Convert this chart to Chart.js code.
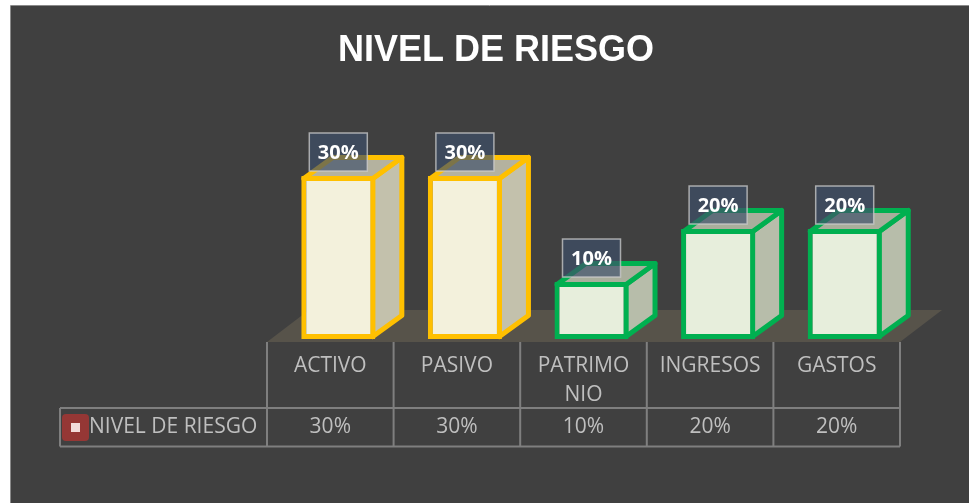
<!DOCTYPE html>
<html>
<head>
<meta charset="utf-8">
<script src="https://cdn.jsdelivr.net/npm/chart.js@4.4.1/dist/chart.umd.min.js"></script>
<style>
  html, body { margin: 0; padding: 0; background: #ffffff; }
  #wrap { position: relative; width: 969px; height: 503px; }
</style>
</head>
<body>
<div id="wrap"><canvas id="chart"></canvas></div>
<script>
// ── Data ──────────────────────────────────────────────
const TITLE       = 'NIVEL DE RIESGO';
const SERIES_NAME = 'NIVEL DE RIESGO';
const CATEGORIES  = ['ACTIVO', 'PASIVO', ['PATRIMO', 'NIO'], 'INGRESOS', 'GASTOS'];
const VALUES      = [30, 30, 10, 20, 20];

// ── Style ─────────────────────────────────────────────
const FRONT_FILL  = ['#f3f1dc', '#f3f1dc', '#e7eedc', '#e7eedc', '#e7eedc'];
const SIDE_FILL   = ['#c3c1ac', '#c3c1ac', '#b7bdaa', '#b7bdaa', '#b7bdaa'];
const TOP_FILL    = ['#b4b29f', '#b4b29f', '#a9ae9c', '#a9ae9c', '#a9ae9c'];
const EDGE        = ['#ffc000', '#ffc000', '#00b050', '#00b050', '#00b050'];
const BAR_DEPTH   = { dx: 29, dy: -21 };
const FLOOR_DEPTH = { dx: 42, dy: -32 };
const SHIFT       = 8;       // bars sit a bit behind the front of the floor
const TEXT_GRAY   = '#bfbfbf';
const GRID_GRAY   = '#7f7f7f';
const TABLE_FONT  = '"Open Sans", "Noto Sans", sans-serif';

// ── Panel, title ─────────────────────────────────────
const panelPlugin = {
  id: 'panel',
  beforeDraw(chart) {
    const ctx = chart.ctx;
    ctx.save();
    ctx.fillStyle = '#ffffff';
    ctx.fillRect(0, 0, chart.width, chart.height);
    ctx.fillStyle = '#404040';
    ctx.fillRect(10, 6, chart.width - 10, chart.height - 6);
    ctx.strokeStyle = '#8a8a8a';
    ctx.lineWidth = 1;
    ctx.beginPath();
    ctx.moveTo(10.5, chart.height);
    ctx.lineTo(10.5, 5.5);
    ctx.lineTo(chart.width, 5.5);
    ctx.stroke();

    // title (centred on the whole panel, not on the plot)
    ctx.fillStyle = '#ffffff';
    ctx.font = 'bold 36px "Liberation Sans", Arial, sans-serif';
    ctx.textAlign = 'center';
    ctx.textBaseline = 'alphabetic';
    ctx.fillText(TITLE, 496, 61);
    ctx.restore();
  },
};

// ── Floor + 3D faces + value boxes ───────────────────
const boxPlugin = {
  id: 'box3d',
  beforeDatasetsDraw(chart) {
    const ctx = chart.ctx;
    const area = chart.chartArea;
    const fl = area.left - SHIFT, fr = area.right - SHIFT, fy = area.bottom + 3;

    ctx.save();
    // floor
    ctx.fillStyle = '#57534a';
    ctx.beginPath();
    ctx.moveTo(fl, fy);
    ctx.lineTo(fr, fy);
    ctx.lineTo(fr + FLOOR_DEPTH.dx, fy + FLOOR_DEPTH.dy);
    ctx.lineTo(fl + FLOOR_DEPTH.dx, fy + FLOOR_DEPTH.dy);
    ctx.closePath();
    ctx.fill();

    // side + top faces of every bar
    const meta = chart.getDatasetMeta(0);
    const { dx, dy } = BAR_DEPTH;
    meta.data.forEach((bar, i) => {
      const p = bar.getProps(['x', 'y', 'base', 'width'], true);
      const l = p.x - p.width / 2 + 2.5, r = p.x + p.width / 2 - 2.5;
      const t = p.y + 2.5, b = p.base - 2.5;
      ctx.lineWidth = 5;
      ctx.lineJoin = 'round';
      ctx.strokeStyle = EDGE[i];

      ctx.fillStyle = SIDE_FILL[i];
      ctx.beginPath();
      ctx.moveTo(r, t);
      ctx.lineTo(r + dx, t + dy);
      ctx.lineTo(r + dx, b + dy);
      ctx.lineTo(r, b);
      ctx.closePath();
      ctx.fill();
      ctx.stroke();

      ctx.fillStyle = TOP_FILL[i];
      ctx.beginPath();
      ctx.moveTo(l, t);
      ctx.lineTo(l + dx, t + dy);
      ctx.lineTo(r + dx, t + dy);
      ctx.lineTo(r, t);
      ctx.closePath();
      ctx.fill();
      ctx.stroke();
    });
    ctx.restore();
  },

  afterDatasetsDraw(chart) {
    const ctx = chart.ctx;
    const meta = chart.getDatasetMeta(0);
    ctx.save();
    meta.data.forEach((bar, i) => {
      const cx = bar.x, cy = bar.y - 24;
      const w = 58, h = 38;
      ctx.fillStyle = 'rgba(62, 80, 106, 0.68)';
      ctx.fillRect(cx - w / 2, cy - h / 2, w, h);
      ctx.strokeStyle = 'rgba(205, 205, 205, 0.75)';
      ctx.lineWidth = 1.5;
      ctx.strokeRect(cx - w / 2, cy - h / 2, w, h);
      ctx.fillStyle = '#ffffff';
      ctx.font = 'bold 20px ' + TABLE_FONT;
      ctx.textAlign = 'center';
      ctx.textBaseline = 'middle';
      ctx.fillText(VALUES[i] + '%', cx, cy + 1);
    });
    ctx.restore();
  },
};

// ── Data table under the plot ────────────────────────
const tablePlugin = {
  id: 'dataTable',
  afterDraw(chart) {
    const ctx = chart.ctx;
    const area = chart.chartArea;
    const n = CATEGORIES.length;
    const cw = (area.right - area.left) / n;
    const left = area.left - SHIFT;
    const top = area.bottom + 3, mid = 408, bottom = 446.5;
    const keyLeft = 60;

    ctx.save();
    ctx.strokeStyle = GRID_GRAY;
    ctx.lineWidth = 2;
    ctx.beginPath();
    for (let i = 0; i <= n; i++) {
      const x = left + cw * i;
      ctx.moveTo(x, top);
      ctx.lineTo(x, bottom);
    }
    ctx.moveTo(keyLeft, mid);
    ctx.lineTo(left + cw * n, mid);
    ctx.moveTo(keyLeft, bottom);
    ctx.lineTo(left + cw * n, bottom);
    ctx.moveTo(keyLeft, mid);
    ctx.lineTo(keyLeft, bottom);
    ctx.stroke();

    ctx.fillStyle = TEXT_GRAY;
    ctx.font = '21px ' + TABLE_FONT;
    ctx.textAlign = 'center';
    ctx.textBaseline = 'middle';
    CATEGORIES.forEach((c, i) => {
      const cx = left + cw * (i + 0.5);
      const lines = Array.isArray(c) ? c : [c];
      lines.forEach((s, k) => ctx.fillText(s, cx, 366 + k * 29));
      ctx.fillText(VALUES[i] + '%', cx, 427);
    });

    // legend key
    ctx.fillStyle = '#953735';
    ctx.beginPath();
    ctx.roundRect(62, 414, 27, 27, 4);
    ctx.fill();
    ctx.fillStyle = '#f2dcdb';
    ctx.fillRect(71, 423, 9, 9);
    ctx.fillStyle = TEXT_GRAY;
    ctx.textAlign = 'left';
    ctx.fillText(SERIES_NAME, 89, 427);
    ctx.restore();
  },
};

// ── Chart ─────────────────────────────────────────────
const chart = new Chart(document.getElementById('chart'), {
  type: 'bar',
  data: {
    labels: CATEGORIES,
    datasets: [{
      label: SERIES_NAME,
      data: VALUES,
      base: -0.75,
      backgroundColor: FRONT_FILL,
      borderColor: EDGE,
      borderWidth: 5,
      borderSkipped: false,
      barPercentage: 0.585,
      categoryPercentage: 1,
    }],
  },
  options: {
    responsive: true,
    maintainAspectRatio: false,
    animation: false,
    layout: { padding: { left: 275, right: 61, top: 149.5, bottom: 164 } },
    scales: {
      x: { display: false },
      y: { display: false, min: -0.75, max: 35 },
    },
    plugins: {
      legend: { display: false },
      tooltip: { enabled: false },
      title: { display: false },
    },
  },
  plugins: [panelPlugin, boxPlugin, tablePlugin],
});
</script>
</body>
</html>
